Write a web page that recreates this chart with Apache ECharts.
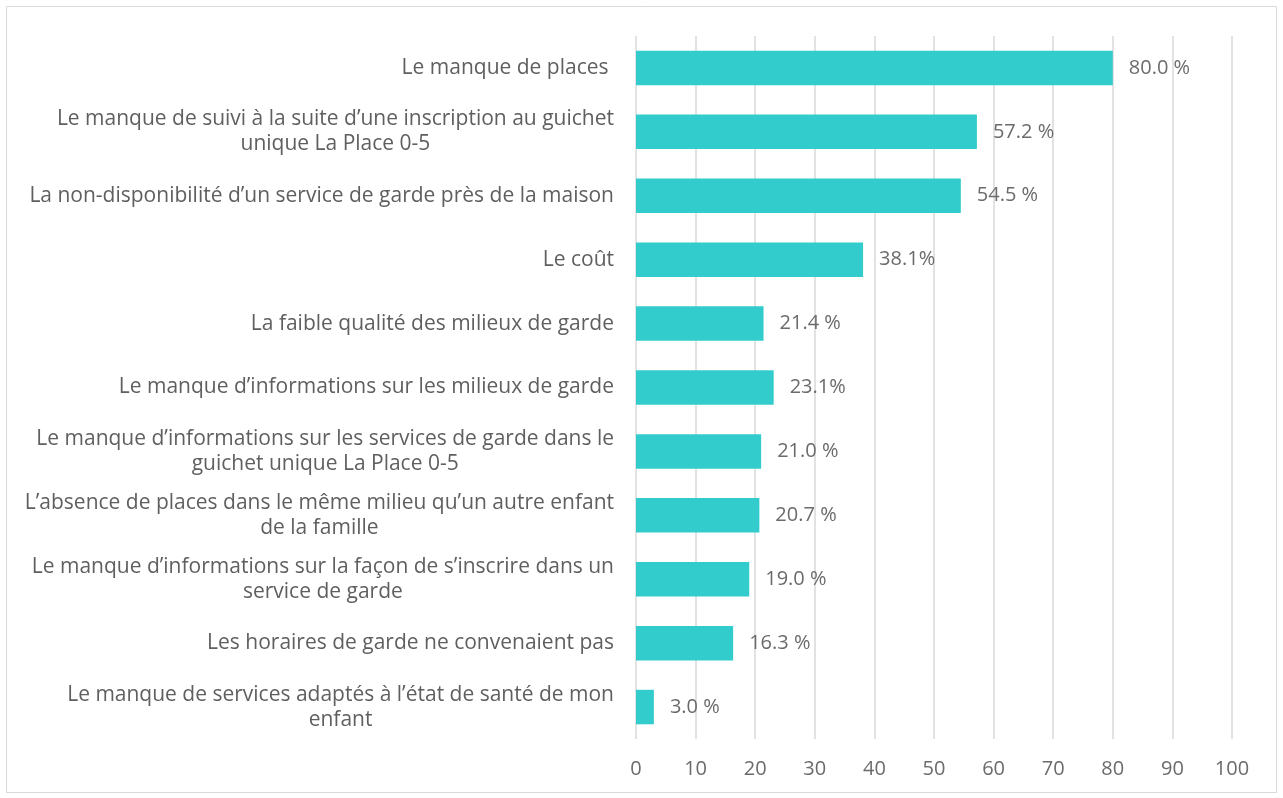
<!DOCTYPE html>
<html>
<head>
<meta charset="utf-8">
<script src="https://cdn.jsdelivr.net/npm/echarts@6/dist/echarts.min.js"></script>
<style>
  html, body { margin: 0; padding: 0; background: #fff; }
  #chart { width: 1283px; height: 798px; }
</style>
</head>
<body>
<div id="chart"></div>
<script>
const categories = [
  'Le manque de places ',
  'Le manque de suivi à la suite d\u2019une inscription au guichet\nunique La Place 0-5',
  'La non-disponibilité d\u2019un service de garde près de la maison',
  'Le coût',
  'La faible qualité des milieux de garde',
  'Le manque d\u2019informations sur les milieux de garde',
  'Le manque d\u2019informations sur les services de garde dans le\nguichet unique La Place 0-5',
  'L\u2019absence de places dans le même milieu qu\u2019un autre enfant\nde la famille',
  'Le manque d\u2019informations sur la façon de s\u2019inscrire dans un\nservice de garde',
  'Les horaires de garde ne convenaient pas',
  'Le manque de services adaptés à l\u2019état de santé de mon\nenfant'
]
const values = [80.0, 57.2, 54.5, 38.1, 21.4, 23.1, 21.0, 20.7, 19.0, 16.3, 3.0]
const valueLabels = ['80.0 %', '57.2 %', '54.5 %', '38.1%', '21.4 %', '23.1%', '21.0 %', '20.7 %', '19.0 %', '16.3 %', '3.0 %']
const xTicks = [0, 100, 10] // min, max, interval

const chart = echarts.init(document.getElementById('chart'))
const font = '"Open Sans", Lato, sans-serif'

chart.setOption({
  backgroundColor: '#ffffff',
  animation: false,
  textStyle: { fontFamily: font },
  graphic: [{
    type: 'rect',
    shape: { x: 6.5, y: 6.5, width: 1270, height: 786 },
    style: { fill: 'none', stroke: '#D9D9D9', lineWidth: 1 },
    silent: true
  }],
  grid: {
    left: 636,
    right: 51,
    top: 36,
    bottom: 59
  },
  xAxis: {
    type: 'value',
    min: xTicks[0],
    max: xTicks[1],
    interval: xTicks[2],
    axisLine: { show: false },
    axisTick: { show: false },
    axisLabel: {
      color: '#6b6b6b',
      fontSize: 20,
      fontFamily: font,
      margin: 20
    },
    splitLine: {
      show: true,
      lineStyle: { color: '#D9D9D9', width: 1.5 }
    }
  },
  yAxis: {
    type: 'category',
    inverse: true,
    data: categories,
    axisLine: { show: false },
    axisTick: { show: false },
    axisLabel: {
      margin: 22,
      align: 'right',
      formatter: function (v) {
        // each line centred inside the right-aligned block
        return v.split('\n').map(function (l) { return '{c|' + l + '}' }).join('\n')
      },
      rich: {
        c: {
          align: 'center',
          color: '#5f5f5f',
          fontSize: 21,
          fontFamily: font,
          lineHeight: 25
        }
      }
    }
  },
  series: [{
    type: 'bar',
    data: values,
    barWidth: '54%',
    itemStyle: { color: '#33CCCC' },
    label: {
      show: true,
      position: 'right',
      distance: 16,
      color: '#6b6b6b',
      fontSize: 20,
      fontFamily: font,
      formatter: function (p) { return valueLabels[p.dataIndex] }
    }
  }]
})
</script>
</body>
</html>
